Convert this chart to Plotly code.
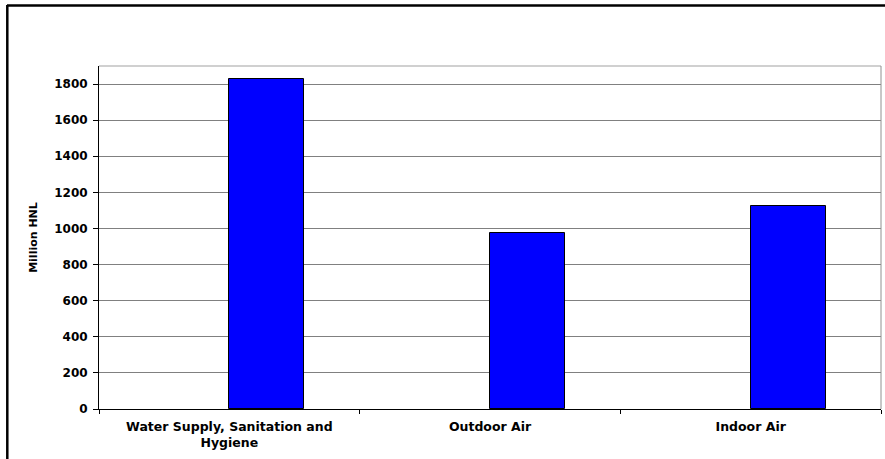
import plotly.graph_objects as go

# Health cost categories and their estimated annual cost (million HNL)
categories = ["Water Supply, Sanitation and<br>Hygiene", "Outdoor Air", "Indoor Air"]
costs = [1830, 975, 1125]

y_ticks = [0, 200, 400, 600, 800, 1000, 1200, 1400, 1600, 1800]
y_max = 1900

FONT = "DejaVu Sans"
W, H = 885, 459
L, R, T, B = 99, 4, 66, 50

fig = go.Figure()
fig.add_trace(go.Bar(
    x=categories,
    y=costs,
    width=0.2875,
    offset=0,
    marker=dict(color="#0000FF", line=dict(color="#000000", width=1)),
    showlegend=False,
    hoverinfo="x+y",
))

plot_w = W - L - R
plot_h = H - T - B

def px_x(px):
    return (px - L) / plot_w

def px_y(py):
    return (H - B - py) / plot_h

fig.update_layout(
    width=W,
    height=H,
    margin=dict(l=L, r=R, t=T, b=B, pad=0),
    paper_bgcolor="white",
    plot_bgcolor="white",
    font=dict(family=FONT, size=11, color="#000000"),
    bargap=0,
    xaxis=dict(
        type="category",
        showline=True,
        linecolor="#000000",
        linewidth=1,
        ticks="outside",
        tickson="boundaries",
        ticklen=4,
        tickcolor="#000000",
        showgrid=False,
        ticklabelstandoff=6,
        tickfont=dict(family=FONT, size=12.5, color="#000000", weight="bold"),
        range=[-0.5, 2.5],
        fixedrange=True,
    ),
    yaxis=dict(
        range=[0, y_max],
        tickvals=y_ticks,
        ticktext=[str(v) for v in y_ticks],
        showline=True,
        linecolor="#000000",
        linewidth=1,
        ticks="outside",
        ticklen=5,
        tickcolor="#000000",
        showgrid=True,
        gridcolor="#808080",
        gridwidth=1,
        zeroline=False,
        ticklabelstandoff=3,
        tickfont=dict(family=FONT, size=12, color="#000000", weight="bold"),
        title=dict(text="Million HNL", font=dict(family=FONT, size=11, color="#000000", weight="bold"), standoff=14),
        fixedrange=True,
    ),
    shapes=[
        # plot-area border (top and right)
        dict(type="line", xref="paper", yref="paper", x0=0, x1=1, y0=1, y1=1,
             line=dict(color="#C0C0C0", width=1.5)),
        dict(type="line", xref="paper", yref="paper", x0=1, x1=1, y0=0, y1=1,
             line=dict(color="#909090", width=1)),
        # outer frame of the chart object
        dict(type="line", xref="paper", yref="paper", x0=px_x(7), x1=px_x(W + 5),
             y0=px_y(5.5), y1=px_y(5.5), line=dict(color="#000000", width=2.5)),
        dict(type="line", xref="paper", yref="paper", x0=px_x(7.3), x1=px_x(7.3),
             y0=px_y(5), y1=px_y(H + 5), line=dict(color="#000000", width=2.5)),
    ],
)

fig.write_html("out.html")
